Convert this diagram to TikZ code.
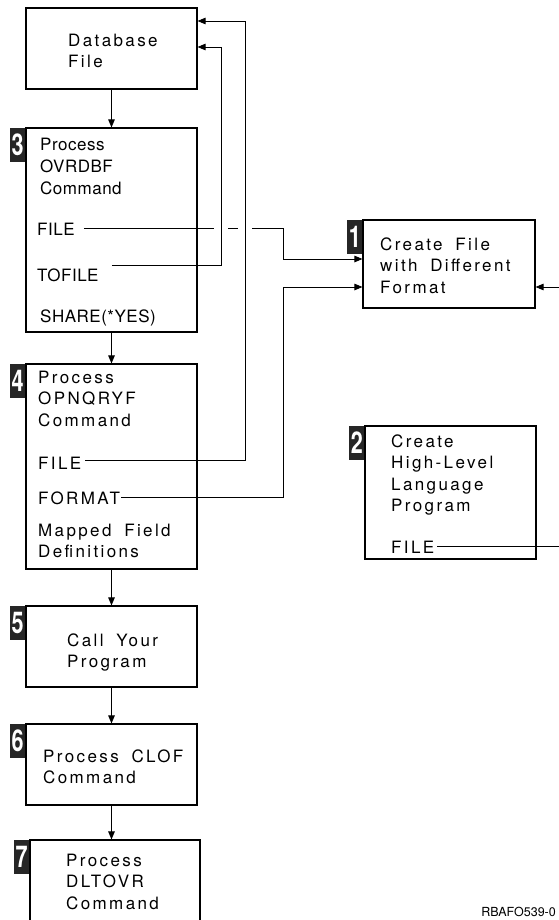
\documentclass[tikz,border=0pt]{standalone}
\usepackage{fontspec}
\setmainfont{TeX Gyre Heros}
\newfontfamily\widefont[LetterSpace=14,WordSpace=1.8]{TeX Gyre Heros}
\newfontfamily\tightfont[LetterSpace=3]{TeX Gyre Heros}
\usetikzlibrary{arrows.meta}
\tikzset{
  box/.style={draw, line width=1.1pt, minimum width=171pt, inner sep=0pt},
  badge/.style={fill=black!85, text=white, minimum width=15pt, minimum height=34pt,
    inner sep=0pt, anchor=north east, font=\bfseries\fontsize{30}{30}\selectfont},
  txt/.style={anchor=north west, inner sep=1pt, align=left,
    font=\widefont\fontsize{17}{21.5}\selectfont},
  ttxt/.style={anchor=north west, inner sep=1pt, align=left,
    font=\tightfont\fontsize{17}{22}\selectfont},
  word/.style={anchor=base west, inner sep=1pt, font=\widefont\fontsize{17}{21.5}\selectfont},
  tword/.style={anchor=base west, inner sep=1pt, font=\tightfont\fontsize{17}{22}\selectfont},
  link/.style={->, line width=0.9pt},
  >={Triangle[length=8pt,width=6.5pt]}
}
\begin{document}
\begin{tikzpicture}[x=1pt,y=-1pt]
\useasboundingbox (0,0) rectangle (558,920);

% left column
\node at (111.5,48.5)[box, minimum height=81pt](DB){};
\node at (111.5,230)[box, minimum height=204pt](P3){};
\node at (111.5,466.5)[box, minimum height=205pt](P4){};
\node at (111.5,646.5)[box, minimum height=81pt](P5){};
\node at (111.5,764.5)[box, minimum height=81pt](P6){};
\node at (115,882)[box, minimum width=170pt, minimum height=84pt](P7){};

% right column
\node at (449,264)[box, minimum width=172pt, minimum height=88pt](C1){};
\node at (450.5,492.5)[box, minimum height=133pt](C2){};

% numbers
\foreach \n/\b in {3/P3,4/P4,5/P5,6/P6,7/P7,1/C1,2/C2}
	\node at (\b.north west)[badge](N\n){\scalebox{0.72}[1]{\n}};

% texts
\node at (67,32.5)[txt](DBt){Database\\File};
\node at (39,136.5)[ttxt](P3t){Process\\OVRDBF\\Command};
\node at (36,235)[tword](F3){FILE};
\node at (36,281)[tword](TF3){TOFILE};
\node at (39,322)[tword](SH3){SHARE(*YES)};
\node at (37,369.5)[txt](P4t){Process\\OPNQRYF\\Command};
\node at (37,469)[word](F4){FILE};
\node at (37,504)[word](FM4){FORMAT};
\node at (37,522.5)[txt](P4m){Mapped Field\\Definitions};
\node at (66,632.5)[txt](P5t){Call Your\\Program};
\node at (42,748.5)[txt](P6t){Process CLOF\\Command};
\node at (65,852.5)[txt](P7t){Process\\DLTOVR\\Command};
\node at (379,236.5)[txt](C1t){Create File\\with Different\\Format};
\node at (390,433.5)[txt](C2t){Create\\High-Level\\Language\\Program};
\node at (390,553)[word](F2){FILE};
\node at (556,916)[anchor=base east, inner sep=0pt, font=\fontsize{12.5}{13}\selectfont](ID){RBAFO539-0};

% flow
\foreach \a/\b in {DB/P3,P3/P4,P4/P5,P5/P6,P6/P7}
	\draw[link] (\a.south) -- (\a.south |- \b.north);

% overrides
\draw[link, shorten <=8pt] (F3.east) -| ([xshift=-79pt,yshift=5pt]C1.west) -- ([yshift=5pt]C1.west);
\foreach \gx in {221,245}
	\fill[white] (\gx-7,226) rectangle (\gx+7,232);
\draw[link, shorten <=12pt] ([yshift=9pt]TF3.east) -| ([xshift=24pt,yshift=1.5pt]DB.east) -- ([yshift=1.5pt]DB.east);
\draw[link, shorten <=3pt] ([yshift=2pt]F4.east) -| ([xshift=48pt,yshift=27.5pt]DB.east) -- ([yshift=27.5pt]DB.east);
\draw[link] (FM4.east) -| ([xshift=-79pt,yshift=-23pt]C1.west) -- ([yshift=-23pt]C1.west);
\draw[link, shorten <=2pt] (F2.east) -| ([xshift=40pt,yshift=-23pt]C1.east) -- ([yshift=-23pt]C1.east);

\end{tikzpicture}
\end{document}
